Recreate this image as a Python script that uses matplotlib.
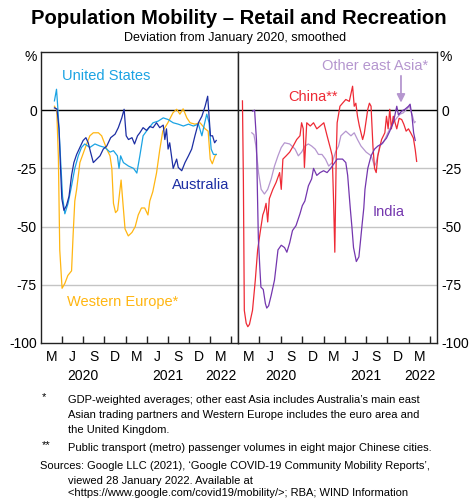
import matplotlib
matplotlib.use('Agg')
import matplotlib.pyplot as plt
import pandas as pd

plt.rcParams['font.family'] = ['Liberation Sans', 'DejaVu Sans']

# ==========================================
# Data (% deviation from Jan 2020)
# ==========================================
us_dates = ['2020-02-28', '2020-03-08', '2020-03-15', '2020-03-25', '2020-04-03', '2020-04-13',
            '2020-04-27', '2020-05-12', '2020-05-26', '2020-06-10', '2020-06-24', '2020-07-08',
            '2020-07-30', '2020-08-21', '2020-09-12', '2020-10-03', '2020-10-25', '2020-11-09',
            '2020-11-26', '2020-12-03', '2020-12-10', '2020-12-22', '2021-01-13', '2021-02-04',
            '2021-02-18', '2021-03-03', '2021-03-17', '2021-04-08', '2021-04-29', '2021-05-21',
            '2021-06-12', '2021-07-03', '2021-07-25', '2021-08-16', '2021-09-07', '2021-09-29',
            '2021-10-20', '2021-11-11', '2021-11-26', '2021-12-05', '2021-12-17', '2021-12-27',
            '2022-01-05', '2022-01-15', '2022-01-27']
us_vals = [4, 9, -1, -20, -37, -44.5, -40, -32.5, -25, -19.6, -16, -14.5, -16, -14.5, -15.4, -16,
           -18, -17.4, -19.6, -25, -19.6, -22.5, -24, -25, -27, -19.6, -11, -8, -5.4, -4.7, -3.3,
           -4, -5.4, -6, -6.8, -6, -6.8, -6, -11, -6.8, -1.7, -5.4, -16.7, -19, -19]

aus_dates = ['2020-02-28', '2020-03-10', '2020-03-19', '2020-03-25', '2020-03-31', '2020-04-09',
             '2020-04-20', '2020-05-01', '2020-05-12', '2020-05-22', '2020-06-03', '2020-06-17',
             '2020-07-01', '2020-07-13', '2020-07-23', '2020-08-02', '2020-08-14', '2020-08-29',
             '2020-09-12', '2020-09-26', '2020-10-11', '2020-10-28', '2020-11-16', '2020-11-30',
             '2020-12-15', '2020-12-25', '2021-01-03', '2021-01-13', '2021-01-28', '2021-02-08',
             '2021-02-21', '2021-03-03', '2021-03-17', '2021-04-01', '2021-04-15', '2021-04-29',
             '2021-05-14', '2021-05-28', '2021-06-12', '2021-06-19', '2021-06-26', '2021-07-03',
             '2021-07-10', '2021-07-25', '2021-08-09', '2021-08-16', '2021-08-31', '2021-09-14',
             '2021-09-29', '2021-10-13', '2021-10-27', '2021-11-11', '2021-11-26', '2021-12-10',
             '2021-12-21', '2021-12-27', '2022-01-02', '2022-01-11', '2022-01-20', '2022-01-27']
aus_vals = [1, 0.5, -8, -24, -38, -43, -41, -37, -28, -22.5, -19, -16, -13, -11.8, -14, -18, -22.5,
            -21, -19.6, -16.7, -15.4, -11.8, -10.3, -7.5, -3.3, 0.4, -11, -12.6, -11.8, -14.5, -11,
            -9.7, -7.5, -8.7, -7, -7.5, -5.4, -7.5, -6.4, -12.6, -8, -16.7, -14, -25, -21, -24.6,
            -26, -22.5, -19.6, -16.7, -11, -5.4, -2.6, 1.7, 6, -2.6, -11, -11, -14, -13]

weu_dates = ['2020-02-28', '2020-03-09', '2020-03-16', '2020-03-22', '2020-04-01', '2020-04-13',
             '2020-04-26', '2020-05-12', '2020-05-19', '2020-05-26', '2020-06-03', '2020-06-17',
             '2020-07-08', '2020-07-30', '2020-08-14', '2020-09-05', '2020-09-19', '2020-10-11',
             '2020-10-25', '2020-11-02', '2020-11-09', '2020-11-18', '2020-11-27', '2020-12-05',
             '2020-12-12', '2020-12-20', '2020-12-29', '2021-01-12', '2021-01-28', '2021-02-11',
             '2021-02-24', '2021-03-10', '2021-03-24', '2021-04-07', '2021-04-15', '2021-04-28',
             '2021-05-14', '2021-05-28', '2021-06-10', '2021-07-02', '2021-07-24', '2021-08-09',
             '2021-08-23', '2021-09-06', '2021-09-22', '2021-10-06', '2021-10-27', '2021-11-18',
             '2021-12-10', '2021-12-23', '2022-01-01', '2022-01-10', '2022-01-22', '2022-01-27']
weu_vals = [1.7, 0, -20, -60, -76.5, -74.4, -71, -69, -53, -39, -34, -22.5, -16.7, -11, -9.7, -9.7,
            -11, -16.7, -19.6, -25, -40, -44, -43, -36, -30, -40, -51, -54, -52.5, -50, -45, -42,
            -42, -45, -39, -35, -27, -17, -9, -5.4, -1.1, 0.4, -1.7, 0.6, -3.3, -5.4, -6, -5.4,
            -8, -9, -21, -23, -19.6, -19]

china_dates = ['2020-01-20', '2020-01-24', '2020-01-28', '2020-02-05', '2020-02-12', '2020-02-19',
               '2020-03-03', '2020-03-15', '2020-03-25', '2020-04-04', '2020-04-16', '2020-04-23',
               '2020-04-30', '2020-05-07', '2020-05-14', '2020-05-29', '2020-06-12', '2020-06-27',
               '2020-07-04', '2020-07-11', '2020-07-25', '2020-08-09', '2020-08-24', '2020-09-08',
               '2020-09-22', '2020-09-29', '2020-10-06', '2020-10-11', '2020-10-21', '2020-11-05',
               '2020-11-19', '2020-12-03', '2020-12-17', '2021-01-02', '2021-01-16', '2021-01-31',
               '2021-02-07', '2021-02-13', '2021-02-18', '2021-02-24', '2021-02-28', '2021-03-12',
               '2021-03-23', '2021-04-06', '2021-04-21', '2021-05-05', '2021-05-12', '2021-05-19',
               '2021-05-26', '2021-06-03', '2021-06-17', '2021-06-24', '2021-07-09', '2021-07-16',
               '2021-07-23', '2021-07-31', '2021-08-07', '2021-08-14', '2021-08-21', '2021-09-06',
               '2021-09-20', '2021-09-27', '2021-10-04', '2021-10-11', '2021-10-18', '2021-10-26',
               '2021-11-10', '2021-11-20', '2021-12-01', '2021-12-10', '2021-12-20', '2021-12-30',
               '2022-01-10', '2022-01-20', '2022-01-28', '2022-02-03']
china_vals = [4, -30, -86, -91.5, -93, -92, -86, -73, -60, -53, -45, -43, -40, -48, -38, -34, -31,
              -26.8, -34, -21, -19.6, -18, -15.4, -12.6, -11, -5.4, -8, -24.6, -5.4, -6.8, -5.4,
              -8, -6.8, -5.4, -11, -16.7, -19.6, -40, -61, -20, -5.4, 1.7, 3, 4.6, 3.8, 10.3, 1.7,
              3, -2.6, -6.8, -12.6, -10, 0.4, 3, 1.7, -15.4, -25, -26.8, -19.6, -12.6, -9.7, -2.6,
              -8, 0.4, -8, -2.6, -8, -3.5, -4, -6, -9, -8, -10, -12, -17, -22]

oea_dates = ['2020-02-29', '2020-03-09', '2020-03-17', '2020-03-29', '2020-04-09', '2020-04-23',
             '2020-05-07', '2020-05-22', '2020-06-05', '2020-06-20', '2020-07-04', '2020-07-18',
             '2020-08-09', '2020-09-01', '2020-09-15', '2020-09-29', '2020-10-13', '2020-10-28',
             '2020-11-11', '2020-11-26', '2020-12-10', '2020-12-25', '2021-01-09', '2021-01-23',
             '2021-02-07', '2021-02-21', '2021-03-06', '2021-03-16', '2021-04-06', '2021-04-28',
             '2021-05-12', '2021-05-26', '2021-06-10', '2021-07-02', '2021-07-24', '2021-08-07',
             '2021-08-14', '2021-08-29', '2021-09-13', '2021-09-27', '2021-10-11', '2021-10-26',
             '2021-11-10', '2021-11-24', '2021-12-08', '2021-12-22', '2022-01-03', '2022-01-14',
             '2022-01-24', '2022-01-28']
oea_vals = [-9.7, -10.5, -15, -27, -34, -36, -34, -29.5, -24, -19.6, -16, -14, -14.5, -16.7, -19.6,
            -18, -15.4, -14.5, -15.4, -16.7, -19, -19, -21, -24, -22.5, -18, -15.4, -11, -9, -11,
            -9.7, -12.6, -15.4, -18, -19.6, -24, -22.5, -15.4, -14, -11, -8, -5.4, -3.3, -1.7,
            -1.1, 0.4, 1.7, -1.7, -5.4, -5]

india_dates = ['2020-03-03', '2020-03-12', '2020-03-20', '2020-03-24', '2020-03-28', '2020-04-03',
               '2020-04-08', '2020-04-18', '2020-04-27', '2020-05-03', '2020-05-11', '2020-05-22',
               '2020-06-05', '2020-06-12', '2020-06-20', '2020-07-04', '2020-07-18', '2020-07-28',
               '2020-08-09', '2020-08-21', '2020-09-05', '2020-09-22', '2020-10-02', '2020-10-13',
               '2020-10-28', '2020-11-11', '2020-11-19', '2020-12-03', '2020-12-17', '2021-01-01',
               '2021-01-16', '2021-01-31', '2021-02-14', '2021-02-28', '2021-03-23', '2021-04-06',
               '2021-04-14', '2021-04-21', '2021-04-25', '2021-05-02', '2021-05-09', '2021-05-21',
               '2021-06-01', '2021-06-08', '2021-06-15', '2021-06-22', '2021-06-27', '2021-07-09',
               '2021-07-23', '2021-08-07', '2021-08-21', '2021-09-06', '2021-09-27', '2021-10-11',
               '2021-10-26', '2021-11-10', '2021-11-17', '2021-12-01', '2021-12-15', '2021-12-30',
               '2022-01-06', '2022-01-14', '2022-01-21', '2022-01-28']
india_vals = [-0.4, 0, -13, -35, -55, -67, -76, -77, -83, -85, -84, -79.5, -73, -67, -60, -58, -59,
              -61, -57, -51.7, -49.6, -44.5, -41, -39, -32.5, -29.5, -25, -28, -26.8, -26, -26.8,
              -25, -23, -21, -21, -22.5, -28, -37, -42, -50, -59, -65, -63, -56, -48.8, -42, -34,
              -25, -19.6, -16.7, -15.4, -14.5, -12, -9, -5.4, 1.7, -2, -0.4, 0.4, 1.7, 2.6, -2.6,
              -9.7, -13]

y_ticks = [-100, -75, -50, -25, 0]
y_ticklabels = ['-100', '-75', '-50', '-25', '0']
qtr_starts = pd.date_range('2020-04-01', '2022-04-01', freq='QS')
qtr_mids = pd.date_range('2020-01-01', '2022-01-01', freq='QS') + pd.Timedelta(days=45)
qtr_labels = ['M', 'J', 'S', 'D'] * 2 + ['M']
year_pos = ['2020-07-01', '2021-07-01', '2022-02-15']
year_labels = ['2020', '2021', '2022']

# colours
C_US = '#1ba3e3'
C_AUS = '#1c2ea3'
C_WEU = '#ffb612'
C_CHN = '#ee2a35'
C_OEA = '#b596cf'
C_IND = '#7436ae'

W, H = 469, 498
fig = plt.figure(figsize=(W / 100, H / 100), dpi=100)
axL = fig.add_axes([41 / W, 1 - 343 / H, 197 / W, 291 / H])
axR = fig.add_axes([238 / W, 1 - 343 / H, 199 / W, 291 / H])


def style(ax, right):
    ax.set_xlim(pd.Timestamp('2020-01-01'), pd.Timestamp('2022-05-01'))
    ax.set_ylim(-100, 25)
    for y in [-25, -50, -75]:
        ax.axhline(y, color='#c4c4c4', lw=1.0, zorder=0)
    ax.axhline(0, color='black', lw=1.0, zorder=1)
    for s in ax.spines.values():
        s.set_color('#222222')
        s.set_linewidth(1.0)
    ax.set_xticks(qtr_starts)
    ax.set_xticklabels([])
    ax.set_xticks(qtr_mids, minor=True)
    ax.set_xticklabels(qtr_labels, minor=True, fontsize=10)
    ax.tick_params(axis='x', which='major', direction='in', length=5, width=1, color='#222222')
    ax.tick_params(axis='x', which='minor', length=0, pad=5)
    ax.set_yticks(y_ticks)
    ax.set_yticklabels(y_ticklabels, fontsize=10)
    ax.tick_params(axis='y', length=0, pad=3)
    if right:
        ax.yaxis.tick_right()
        ax.text(1.012, 0.982, '%', transform=ax.transAxes, ha='left', va='center', fontsize=10)
    else:
        ax.text(-0.02, 0.982, '%', transform=ax.transAxes, ha='right', va='center', fontsize=10)
    for pos, lab in zip(year_pos, year_labels):
        ax.text(pd.Timestamp(pos), -0.112, lab, transform=ax.get_xaxis_transform(),
                ha='center', va='center', fontsize=10)


style(axL, False)
style(axR, True)

lw = 0.9
axL.plot(pd.to_datetime(weu_dates), weu_vals, color=C_WEU, lw=lw, zorder=3)
axL.plot(pd.to_datetime(us_dates), us_vals, color=C_US, lw=lw, zorder=4)
axL.plot(pd.to_datetime(aus_dates), aus_vals, color=C_AUS, lw=lw, zorder=5)

axR.plot(pd.to_datetime(oea_dates), oea_vals, color=C_OEA, lw=lw, zorder=3)
axR.plot(pd.to_datetime(china_dates), china_vals, color=C_CHN, lw=lw, zorder=4)
axR.plot(pd.to_datetime(india_dates), india_vals, color=C_IND, lw=lw, zorder=5)

axL.text(0.107, 0.9175, 'United States', color=C_US, transform=axL.transAxes, va='center', fontsize=10.5)
axL.text(0.665, 0.543, 'Australia', color=C_AUS, transform=axL.transAxes, va='center', fontsize=10.5)
axL.text(0.132, 0.141, 'Western Europe*', color=C_WEU, transform=axL.transAxes, va='center', fontsize=10.5)
axR.text(0.251, 0.845, 'China**', color=C_CHN, transform=axR.transAxes, va='center', fontsize=10.5)
axR.text(0.422, 0.952, 'Other east Asia*', color=C_OEA, transform=axR.transAxes, va='center', fontsize=10.5)
axR.text(0.678, 0.450, 'India', color=C_IND, transform=axR.transAxes, va='center', fontsize=10.5)
axR.annotate('', xy=(0.819, 0.826), xytext=(0.819, 0.918), xycoords='axes fraction',
             arrowprops=dict(arrowstyle='-|>', color=C_OEA, lw=1.3, mutation_scale=12, shrinkA=0, shrinkB=0))

fig.text(239 / W, 1 - 18 / H, 'Population Mobility \u2013 Retail and Recreation', ha='center', va='center',
         fontsize=14.6, fontweight='bold')
fig.text(235 / W, 1 - 38 / H, 'Deviation from January 2020, smoothed', ha='center', va='center', fontsize=9.0)

# footnotes, placed on baselines
fn = 8.05
fig.text(42 / W, 1 - 400 / H, '*', fontsize=fn, va='baseline')
fig.text(68 / W, 1 - 403 / H, 'GDP-weighted averages; other east Asia includes Australia\u2019s main east',
         fontsize=fn, va='baseline')
fig.text(68 / W, 1 - 418 / H, 'Asian trading partners and Western Europe includes the euro area and',
         fontsize=fn, va='baseline')
fig.text(68 / W, 1 - 433 / H, 'the United Kingdom.', fontsize=fn, va='baseline')
fig.text(42 / W, 1 - 448 / H, '**', fontsize=fn, va='baseline')
fig.text(68 / W, 1 - 451 / H, 'Public transport (metro) passenger volumes in eight major Chinese cities.',
         fontsize=fn, va='baseline')
fig.text(40 / W, 1 - 469 / H,
         'Sources: Google LLC (2021), \u2018Google COVID-19 Community Mobility Reports\u2019,',
         fontsize=fn, va='baseline')
fig.text(68 / W, 1 - 484 / H, 'viewed 28 January 2022. Available at', fontsize=fn, va='baseline')
fig.text(68 / W, 1 - 496 / H, '<https://www.google.com/covid19/mobility/>; RBA; WIND Information',
         fontsize=fn, va='baseline')

fig.savefig('out.png', dpi=100)
